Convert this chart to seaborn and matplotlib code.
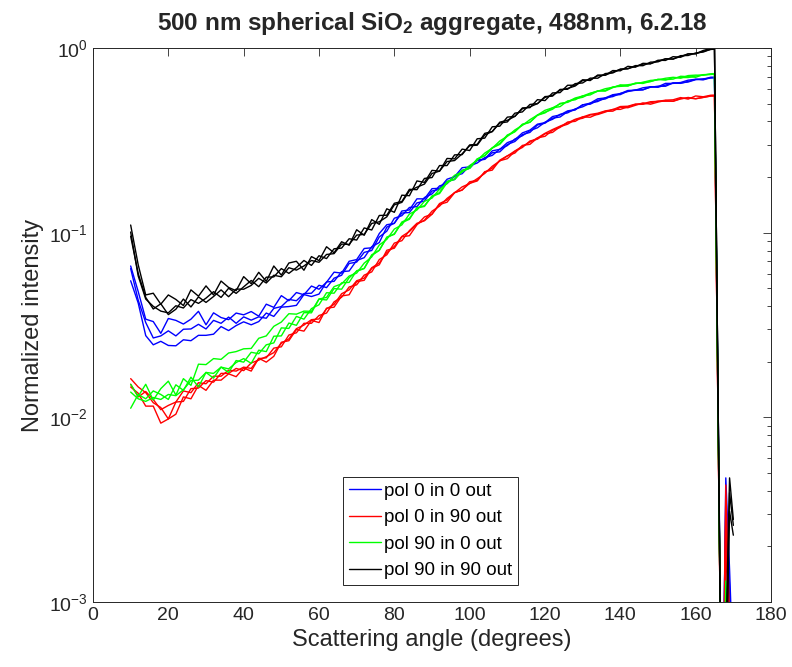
import numpy as np
import pandas as pd
import matplotlib
matplotlib.use("Agg")
import matplotlib.pyplot as plt
import seaborn as sns
from matplotlib.ticker import LogLocator, NullFormatter

sns.set_theme(style="white")
plt.rcParams["font.family"] = ["Liberation Sans", "DejaVu Sans"]
plt.rcParams["mathtext.fontset"] = "custom"
plt.rcParams["mathtext.rm"] = "Liberation Sans"
plt.rcParams["mathtext.bf"] = "Liberation Sans:bold"
plt.rcParams["mathtext.it"] = "Liberation Sans:italic"

# ---------------- data ----------------
angle = list(range(10, 165, 2))           # 78 angles, 10..164
tail_angle = [165, 167, 168, 169, 170]

labels = ["pol 0 in 0 out", "pol 0 in 90 out", "pol 90 in 0 out", "pol 90 in 90 out"]
colors = ["#0000ff", "#ff0000", "#00ff00", "#000000"]

blue_1 = [.066, .048, .034, .033, .0285, .0343, .0335, .032, .034, .0375,
          .0317, .0368, .0347, .0338, .0367, .0359, .0374, .0353, .041, .0394,
          .0456, .0428, .0474, .0461, .0514, .0494, .0539, .0611, .0604, .070,
          .0715, .0821, .0828, .0989, .1104, .1122, .131, .1327, .1525, .1524,
          .1731, .1738, .1947, .2011, .2248, .2271, .2477, .2503, .2775, .2826,
          .3072, .3182, .3469, .3593, .3869, .3943, .4254, .4341, .4564, .4639,
          .4919, .5028, .5308, .5366, .5585, .5663, .5888, .591, .609, .617,
          .6168, .6434, .643, .6504, .6696, .677, .6762, .695]
blue_2 = [.0639, .0431, .0326, .0269, .0276, .0294, .0276, .03, .0301, .0319,
          .0301, .0335, .0323, .0349, .0323, .035, .0336, .035, .0344, .0389,
          .0398, .0435, .0428, .0468, .047, .0519, .0504, .0567, .0588, .0681,
          .0693, .0782, .0801, .0948, .1019, .1197, .1236, .1369, .1384, .155,
          .1621, .1792, .1842, .2029, .2086, .2304, .2383, .255, .2621, .2833,
          .2962, .3215, .3348, .3569, .3699, .3967, .4109, .4373, .4454, .4681,
          .4803, .5029, .5132, .5373, .5455, .5676, .581, .5929, .595, .6131,
          .621, .6207, .6474, .647, .6544, .6737, .681, .688]
blue_3 = [.0549, .0416, .0277, .0247, .0258, .0245, .0244, .0263, .026, .0278,
          .0278, .0282, .031, .0295, .0314, .0329, .0317, .033, .0367, .0352,
          .0395, .0398, .0404, .0462, .0451, .0465, .0541, .0545, .0615, .062,
          .0707, .0732, .084, .0884, .1071, .1127, .1277, .1286, .1449, .1484,
          .1681, .1715, .1895, .194, .2173, .2234, .2458, .2495, .2708, .274,
          .3002, .3116, .3396, .3491, .383, .3917, .4173, .423, .4525, .4618,
          .4928, .496, .5216, .5297, .5545, .5594, .5848, .59, .593, .6161,
          .6128, .63, .6454, .6435, .659, .6767, .6722, .69]

red_1 = [.0162, .0146, .0136, .012, .0113, .0098, .0121, .0122, .0143, .0144,
         .0158, .0155, .0173, .0173, .0184, .0179, .0197, .0204, .0213, .0224,
         .0252, .0266, .0302, .0316, .0338, .0341, .0387, .0409, .0467, .049,
         .0549, .0567, .0646, .0685, .078, .0842, .0955, .1014, .111, .1169,
         .1307, .1392, .1533, .1645, .177, .1844, .196, .2092, .2289, .2445,
         .2602, .277, .2935, .3092, .3257, .3452, .3618, .3774, .3929, .4109,
         .4232, .4366, .4434, .4564, .4636, .482, .4838, .497, .499, .5118,
         .5141, .5217, .5242, .539, .5287, .55, .5444, .555]
red_2 = [.0151, .0129, .0138, .0125, .011, .0116, .0121, .0139, .0136, .0154,
         .0152, .0167, .0167, .018, .0178, .0187, .0184, .0208, .021, .0237,
         .0241, .0279, .0287, .0323, .0323, .0356, .0367, .0422, .0447, .0508,
         .0522, .0589, .0613, .0715, .0759, .0878, .0905, .1026, .1124, .116,
         .1258, .1438, .1503, .1649, .1699, .1887, .1917, .2122, .2237, .2452,
         .2516, .2755, .2893, .3137, .3208, .343, .3492, .3747, .3867, .4088,
         .4164, .4341, .4362, .4498, .4652, .4651, .4806, .4947, .4956, .5048,
         .5157, .5148, .5154, .5321, .5356, .5314, .5406, .5496]
red_3 = [.0146, .0135, .0115, .0115, .0093, .0098, .0104, .0129, .0126, .0149,
         .014, .0159, .0159, .0172, .0166, .0185, .0178, .0209, .0199, .0214,
         .0255, .026, .0299, .0293, .0335, .0326, .039, .0395, .0454, .0461,
         .0543, .0552, .0641, .067, .0803, .0824, .095, .0963, .1103, .1217,
         .126, .1421, .1462, .1646, .1706, .1849, .1906, .214, .2181, .247,
         .2607, .2698, .2969, .3008, .3261, .3325, .3587, .3714, .3973, .4005,
         .4237, .4217, .4395, .454, .4549, .4777, .4747, .4895, .5045, .496,
         .5095, .5196, .5143, .53, .5398, .5311, .5395, .5495]

green_1 = [.0151, .013, .0151, .0124, .0143, .0157, .0132, .0162, .0149, .0194,
           .0193, .0208, .0206, .0223, .0227, .0235, .0236, .0268, .0276, .0311,
           .0328, .0364, .0362, .0376, .0375, .0437, .0446, .051, .0528, .0582,
           .0604, .0684, .0739, .0857, .092, .1046, .1102, .1261, .1326, .1478,
           .1539, .1719, .185, .2045, .213, .2308, .2468, .2697, .2867, .3138,
           .3325, .36, .3812, .4092, .4334, .4599, .4744, .4974, .5111, .536,
           .5495, .5694, .5831, .602, .6128, .6272, .6326, .641, .6524, .6676,
           .6722, .6858, .694, .6861, .709, .7131, .7118, .725]
green_2 = [.0112, .0133, .0126, .0139, .0133, .0125, .015, .014, .0165, .0146,
           .0175, .0173, .0187, .0183, .0198, .0208, .0196, .0231, .0227, .0275,
           .0276, .0324, .0315, .0369, .0368, .0437, .0432, .0498, .0494, .057,
           .0618, .0639, .0752, .0802, .0938, .0987, .1133, .1181, .1364, .14,
           .1571, .1628, .1866, .1959, .2175, .2233, .25, .261, .2874, .3008,
           .3338, .3522, .3869, .3963, .4323, .4452, .4741, .4815, .5169, .5242,
           .5506, .557, .5848, .5889, .6151, .6198, .6227, .6462, .6425, .6598,
           .6757, .671, .6908, .6918, .692, .7048, .7161, .719]
green_3 = [.0137, .0126, .0122, .0128, .0125, .0133, .0131, .0141, .0158, .0159,
           .0175, .0163, .0187, .0175, .0203, .0199, .0225, .0221, .0247, .0253,
           .0305, .0303, .0352, .034, .0388, .0407, .0473, .047, .0535, .0538,
           .0622, .0641, .0759, .0803, .0947, .0979, .1142, .1195, .136, .1387,
           .158, .1647, .1894, .1941, .2142, .2235, .251, .2612, .2884, .3041,
           .3381, .3524, .3841, .3965, .4333, .4495, .4657, .5014, .5076, .5309,
           .5407, .5667, .5858, .5841, .61, .6313, .6237, .6424, .65, .6574,
           .6767, .674, .6782, .703, .70, .694, .7171, .72]

black_1 = [.110, .067, .046, .047, .041, .046, .0435, .0403, .049, .0453,
           .0515, .046, .0547, .0505, .0485, .0578, .0529, .061, .0545, .066,
           .0589, .0685, .070, .0626, .0742, .0706, .0839, .0778, .0893, .0855,
           .1037, .0968, .1177, .1109, .1347, .1289, .1596, .1585, .1906, .1872,
           .2175, .2154, .2523, .2509, .2835, .2784, .3224, .325, .3744, .3773,
           .4223, .4263, .4738, .4753, .5253, .519, .5712, .5733, .6283, .6287,
           .6732, .6664, .714, .7128, .7548, .7524, .7956, .787, .8262, .8217,
           .8585, .8564, .8976, .891, .9292, .9306, .9696, .995]
black_2 = [.1008, .0583, .0437, .0399, .0376, .0368, .0402, .0391, .0434, .0414,
           .0442, .0479, .0446, .05, .0469, .0509, .0551, .051, .0574, .0576,
           .0639, .0602, .0647, .0707, .0665, .075, .0724, .0818, .0825, .0927,
           .0912, .1061, .1034, .1239, .1243, .1443, .1475, .1717, .1709, .1967,
           .1988, .2309, .2309, .2638, .2646, .2987, .3007, .345, .3528, .3927,
           .3977, .4437, .4508, .4947, .4998, .5457, .5488, .5967, .5978, .6414,
           .6468, .6868, .686, .7272, .7326, .7676, .7722, .803, .8019, .8383,
           .8415, .8737, .8712, .909, .9108, .94, .9504, .985]
black_3 = [.0956, .0601, .0446, .0386, .0412, .036, .0385, .0437, .0396, .0449,
           .0419, .0451, .049, .045, .0495, .0494, .0518, .0566, .0534, .0588,
           .0577, .0646, .0627, .066, .0707, .0691, .0762, .077, .0867, .0864,
           .097, .0979, .1122, .1145, .1218, .1415, .1459, .1684, .1763, .1833,
           .2092, .2154, .2428, .2458, .2673, .2958, .2976, .3384, .3528, .3966,
           .4059, .4263, .4692, .4802, .4998, .5404, .5544, .5909, .6039, .6223,
           .6666, .6732, .707, .7128, .74, .7676, .7722, .795, .8181, .8217,
           .85, .8737, .8712, .90, .9292, .9306, .96, .982]

# values at tail_angle (165, 167, 168, 169, 170)
blue_1_tail = [0.695, 1e-4, 0.0047, 0.0015, 0.0004]
blue_2_tail = [0.690, 1.5e-4, 0.0036, 0.0012, 0.0002]
blue_3_tail = [0.692, 1e-4, 0.0028, 0.0009, 0.0003]
red_1_tail = [0.556, 1e-4, 0.0043, 0.0008, 0.0002]
red_2_tail = [0.551, 1e-4, 0.0031, 0.0006, 0.0001]
red_3_tail = [0.550, 1e-4, 0.0021, 0.0005, 0.0001]
green_1_tail = [0.727, 1e-4, 0.0013, 0.0004, 0.0001]
green_2_tail = [0.721, 1e-4, 0.0009, 0.0003, 0.0001]
green_3_tail = [0.722, 1e-4, 0.0008, 0.0003, 0.0001]
black_1_tail = [0.998, 1e-4, 0.0006, 0.0047, 0.0028]
black_2_tail = [0.990, 1e-4, 0.0004, 0.0039, 0.0026]
black_3_tail = [0.985, 1e-4, 0.0003, 0.0031, 0.0023]

series = [
    (labels[0], 1, blue_1, blue_1_tail), (labels[0], 2, blue_2, blue_2_tail), (labels[0], 3, blue_3, blue_3_tail),
    (labels[1], 1, red_1, red_1_tail), (labels[1], 2, red_2, red_2_tail), (labels[1], 3, red_3, red_3_tail),
    (labels[2], 1, green_1, green_1_tail), (labels[2], 2, green_2, green_2_tail), (labels[2], 3, green_3, green_3_tail),
    (labels[3], 1, black_1, black_1_tail), (labels[3], 2, black_2, black_2_tail), (labels[3], 3, black_3, black_3_tail),
]

rows = []
for lab, rep, main, tail in series:
    pairs = list(zip(angle, main)) + list(zip(tail_angle, tail))
    for xv, yv in pairs:
        rows.append({"angle": xv, "intensity": yv, "pol": lab, "rep": rep})
df = pd.DataFrame(rows)

# ---------------- plot ----------------
fig = plt.figure(figsize=(7.92, 6.67), dpi=100)
ax = fig.add_axes([93 / 792, 1 - 602 / 667, 678 / 792, 554 / 667])

sns.lineplot(data=df, x="angle", y="intensity", hue="pol", units="rep",
             estimator=None, sort=False, hue_order=labels,
             palette=dict(zip(labels, colors)), lw=1.0, ax=ax)

ax.set_yscale("log")
ax.set_xlim(0, 180)
ax.set_ylim(1e-3, 1)
ax.set_xticks(range(0, 181, 20))
ax.set_yticks([1e-3, 1e-2, 1e-1, 1])
ax.set_yticklabels([r"$10^{-3}$", r"$10^{-2}$", r"$10^{-1}$", r"$10^{0}$"])
ax.yaxis.set_minor_locator(LogLocator(base=10, subs=np.arange(2, 10)))
ax.yaxis.set_minor_formatter(NullFormatter())

dark = "#262626"
ax.tick_params(which="both", direction="in", top=True, right=True,
               colors=dark, labelsize=14)
ax.tick_params(which="major", length=6, width=0.6)
ax.tick_params(which="minor", length=3, width=0.6)
for sp in ax.spines.values():
    sp.set_color(dark)
    sp.set_linewidth(0.7)

ax.set_xlabel("Scattering angle (degrees)", fontsize=17, color=dark)
ax.set_ylabel("Normalized intensity", fontsize=17, color=dark)
ax.set_title(r"500 nm spherical SiO$_\mathbf{2}$ aggregate, 488nm, 6.2.18",
             fontsize=17.5, fontweight="bold", pad=13)

sns.move_legend(ax, "lower left", bbox_to_anchor=(0.369, 0.031), title=None,
                frameon=True, fancybox=False, framealpha=1, edgecolor=dark,
                fontsize=13.5, borderaxespad=0, handlelength=1.7,
                handletextpad=0.2, labelspacing=0.5, borderpad=0.3)
leg = ax.get_legend()
leg.get_frame().set_linewidth(0.7)
for t in leg.get_texts():
    t.set_color("black")

fig.savefig("out.png", dpi=100)
